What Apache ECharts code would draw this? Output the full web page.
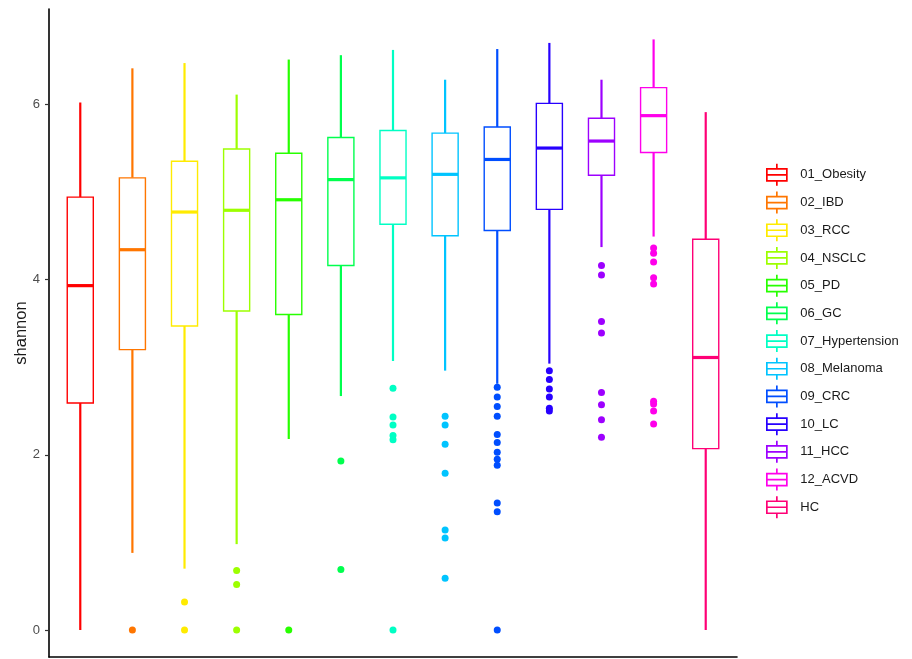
<!DOCTYPE html>
<html>
<head>
<meta charset="utf-8">
<title>shannon</title>
<script src="https://cdn.jsdelivr.net/npm/echarts@6/dist/echarts.min.js"></script>
<style>
  html, body { margin: 0; padding: 0; background: #fff; }
  #chart { width: 912px; height: 659px; }
</style>
</head>
<body>
<div id="chart"></div>
<script>
// Groups, in plotting order
const categories = ['01_Obesity', '02_IBD', '03_RCC', '04_NSCLC', '05_PD', '06_GC',
  '07_Hypertension', '08_Melanoma', '09_CRC', '10_LC', '11_HCC', '12_ACVD', 'HC'];

// One hue per group (rainbow palette)
const colors = ['#FF0000', '#FF7600', '#FFEB00', '#9DFF00', '#27FF00', '#00FF4E',
  '#00FFC4', '#00C4FF', '#004EFF', '#2700FF', '#9D00FF', '#FF00EB', '#FF0076'];

// Five-number summaries of the shannon index per group
const whiskerLow  = [0.00, 0.88, 0.70, 0.98, 2.18, 2.67, 3.07, 2.96, 2.81, 3.04, 4.37, 4.49, 0.00];
const q1          = [2.59, 3.20, 3.47, 3.64, 3.60, 4.16, 4.63, 4.50, 4.56, 4.80, 5.19, 5.45, 2.07];
const median      = [3.93, 4.34, 4.77, 4.79, 4.91, 5.14, 5.16, 5.20, 5.37, 5.50, 5.58, 5.87, 3.11];
const q3          = [4.94, 5.16, 5.35, 5.49, 5.44, 5.62, 5.70, 5.67, 5.74, 6.01, 5.84, 6.19, 4.46];
const whiskerHigh = [6.02, 6.41, 6.47, 6.11, 6.51, 6.56, 6.62, 6.28, 6.63, 6.70, 6.28, 6.74, 5.91];

// Points beyond the whiskers
const outliers = [
  [],
  [0],
  [0.32, 0],
  [0.68, 0.52, 0],
  [0],
  [1.93, 0.69],
  [2.76, 2.43, 2.34, 2.22, 2.17, 0],
  [2.44, 2.34, 2.12, 1.79, 1.14, 1.05, 0.59],
  [2.77, 2.66, 2.55, 2.44, 2.23, 2.14, 2.03, 1.95, 1.88, 1.45, 1.35, 0],
  [2.96, 2.86, 2.75, 2.66, 2.53, 2.50],
  [4.16, 4.05, 3.52, 3.39, 2.71, 2.57, 2.40, 2.20],
  [4.36, 4.30, 4.20, 4.02, 3.95, 2.61, 2.58, 2.50, 2.35],
  []
];

const yTicks = [0, 2, 4, 6];

const BOX_WIDTH = 0.5; // in category units
const FONT = 'Liberation Sans, Arial, sans-serif';

function renderBox(params, api) {
  const color = api.visual('color');
  const x = api.value(0);
  const cx = api.coord([x, 0])[0];
  const half = api.size([BOX_WIDTH, 0])[0] / 2;
  const yLo = api.coord([x, api.value(1)])[1];
  const yQ1 = api.coord([x, api.value(2)])[1];
  const yMed = api.coord([x, api.value(3)])[1];
  const yQ3 = api.coord([x, api.value(4)])[1];
  const yHi = api.coord([x, api.value(5)])[1];
  return {
    type: 'group',
    children: [
      { type: 'line', shape: { x1: cx, y1: yHi, x2: cx, y2: yQ3 },
        style: { stroke: color, lineWidth: 2.2 } },
      { type: 'line', shape: { x1: cx, y1: yQ1, x2: cx, y2: yLo },
        style: { stroke: color, lineWidth: 2.2 } },
      { type: 'rect', shape: { x: cx - half, y: yQ3, width: half * 2, height: yQ1 - yQ3 },
        style: { fill: '#ffffff', stroke: color, lineWidth: 1.4 } },
      { type: 'line', shape: { x1: cx - half, y1: yMed, x2: cx + half, y2: yMed },
        style: { stroke: color, lineWidth: 3.2 } }
    ]
  };
}

const series = [];
categories.forEach((name, i) => {
  series.push({
    name: name,
    type: 'custom',
    renderItem: renderBox,
    itemStyle: { color: colors[i] },
    encode: { x: 0, y: [1, 2, 3, 4, 5] },
    data: [[i, whiskerLow[i], q1[i], median[i], q3[i], whiskerHigh[i]]],
    z: 2
  });
  series.push({
    name: name,
    type: 'scatter',
    symbol: 'circle',
    symbolSize: 7,
    itemStyle: { color: colors[i], opacity: 1 },
    data: outliers[i].map(v => [i, v]),
    z: 3
  });
});

// Legend key: box with median bar and whiskers
const keyIcon = 'path://M11,0L11,5M1,5L21,5L21,17L1,17ZM1,11L21,11M11,17L11,22';

const option = {
  animation: false,
  backgroundColor: '#ffffff',
  textStyle: { fontFamily: FONT },
  grid: { left: 49, right: 175, top: 9, bottom: 2, containLabel: false, outerBoundsMode: 'none' },
  xAxis: {
    type: 'value',
    min: -0.6,
    max: categories.length - 1 + 0.6,
    axisLine: { show: true, onZero: false, lineStyle: { color: '#000', width: 1.6 } },
    axisTick: { show: false },
    axisLabel: { show: false },
    splitLine: { show: false }
  },
  yAxis: {
    type: 'value',
    min: -0.308,
    max: 7.087,
    name: 'shannon',
    nameLocation: 'middle',
    nameRotate: 90,
    nameGap: 19,
    nameMoveOverlap: false,
    nameTextStyle: { fontSize: 16.5, color: '#1a1a1a', fontFamily: FONT },
    axisLine: { show: true, onZero: false, lineStyle: { color: '#000', width: 1.6 } },
    axisTick: { show: true, length: 4, customValues: yTicks, lineStyle: { color: '#333', width: 1.2 } },
    axisLabel: {
      customValues: yTicks,
      margin: 9,
      fontSize: 13,
      color: '#4d4d4d',
      fontFamily: FONT
    },
    splitLine: { show: false }
  },
  legend: {
    orient: 'vertical',
    left: 761,
    top: 158,
    itemWidth: 23,
    itemHeight: 22,
    itemGap: 4,
    textStyle: {
      fontSize: 13,
      color: '#1a1a1a',
      fontFamily: FONT,
      padding: [0, 0, 0, 7]
    },
    data: categories.map((name, i) => ({
      name: name,
      icon: keyIcon,
      itemStyle: { color: '#ffffff', borderColor: colors[i], borderWidth: 1.7 }
    }))
  },
  series: series
};

const chart = echarts.init(document.getElementById('chart'), null, { renderer: 'canvas' });
chart.setOption(option);
</script>
</body>
</html>
